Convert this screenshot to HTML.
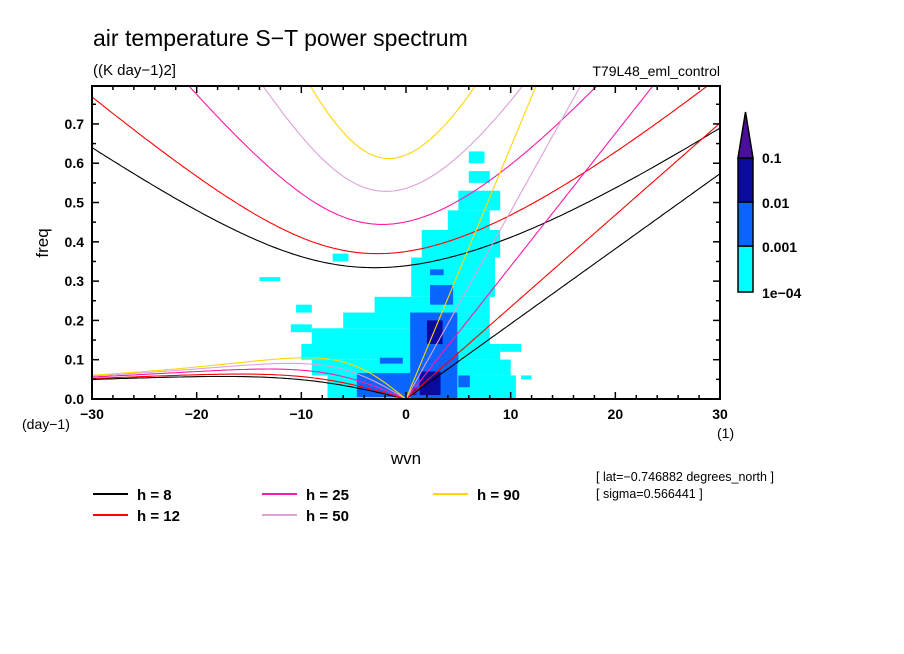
<!DOCTYPE html>
<html><head><meta charset="utf-8"><style>
html,body{margin:0;padding:0;background:#fff;}
svg{display:block;font-family:"Liberation Sans",sans-serif;}
</style></head><body>
<svg id="chart" width="904" height="654" viewBox="0 0 904 654" xmlns="http://www.w3.org/2000/svg">
<text x="93" y="46" font-size="23" fill="#000">air temperature S−T power spectrum</text>
<text x="93" y="75" font-size="15" fill="#000">((K day−1)2]</text>
<text x="720" y="76" font-size="14" fill="#000" text-anchor="end">T79L48_eml_control</text>
<text x="0" y="0" font-size="17" fill="#000" text-anchor="middle" transform="translate(48,243) rotate(-90)">freq</text>
<text x="406" y="464" font-size="17" fill="#000" text-anchor="middle">wvn</text>
<text x="22" y="429" font-size="14" fill="#000">(day−1)</text>
<text x="717" y="438" font-size="14" fill="#000">(1)</text>
<text x="596" y="481" font-size="12.5" fill="#000">[ lat=−0.746882 degrees_north ]</text>
<text x="596" y="498" font-size="12.5" fill="#000">[ sigma=0.566441 ]</text>
<defs><clipPath id="plotclip"><rect x="92" y="86" width="628" height="313"/></clipPath></defs>
<g id="cells" clip-path="url(#plotclip)"></g>
<g id="curves" clip-path="url(#plotclip)"></g>
<g id="axes"></g>
<g id="legend"></g>
<g id="colorbar"></g>
</svg>
<script>
// ---- data ----
const depths = [8, 12, 25, 50, 90];
const depthColors = ["#000000", "#ff0000", "#ff1aa8", "#dda0dd", "#ffd700"];
const xTicks = [-30, -20, -10, 0, 10, 20, 30];
const yTicks = [0.0, 0.1, 0.2, 0.3, 0.4, 0.5, 0.6, 0.7];
const levelLabels = ["1e-04", "0.001", "0.01", "0.1"];
const levelColors = ["#00ffff", "#0a64ff", "#0a0a9e", "#4b0fa0"];
// power cells: [k0, k1, f0, f1, level]
const cellK0 = [-7.5,-9,-10,-9,-6,-3,0.5,1.5,4,5,6,6,-7,-14,-10.5,-11,9,8,11,  0.4,2.3,-4.7,-2.5,5,2.3,3.5,  1.3,2,  0.5];
const cellK1 = [10.5,10,9,8,8,8,8.5,9,8,9,8,7.5,-5.5,-12,-9,-9,11,10,12,  4.9,4.5,0.4,-0.3,6.1,3.6,5,  3.3,3.5,  1];
const cellF0 = [0,0.06,0.1,0.14,0.18,0.22,0.26,0.36,0.43,0.48,0.55,0.6,0.35,0.30,0.22,0.17,0.12,0.08,0.05,  0,0.24,0.005,0.09,0.03,0.315,0.09,  0.01,0.14,  0.01];
const cellF1 = [0.06,0.1,0.14,0.18,0.22,0.26,0.36,0.43,0.48,0.53,0.58,0.63,0.37,0.31,0.24,0.19,0.14,0.1,0.06,  0.22,0.29,0.066,0.105,0.06,0.33,0.12,  0.07,0.2,  0.03];
const cellLevel = [0,0,0,0,0,0,0,0,0,0,0,0,0,0,0,0,0,0,0,  1,1,1,1,1,1,1,  2,2,  3];

// ---- axes ----
const X0=92, X1=720, Y0=399, Y1=86, KMIN=-30, KMAX=30, FMIN=0, FMAX=0.7965;
const xs = k => X0 + (k-KMIN)/(KMAX-KMIN)*(X1-X0);
const ys = f => Y0 - (f-FMIN)/(FMAX-FMIN)*(Y0-Y1);
const NS="http://www.w3.org/2000/svg";
function mk(tag, attrs, parent){const e=document.createElementNS(NS,tag);for(const a in attrs)e.setAttribute(a,attrs[a]);parent.appendChild(e);return e;}

const cg=document.getElementById('cells');
for(let i=0;i<cellK0.length;i++){
  const r=mk('rect',{x:xs(cellK0[i]),y:ys(cellF1[i]),width:xs(cellK1[i])-xs(cellK0[i]),height:ys(cellF0[i])-ys(cellF1[i]),fill:levelColors[cellLevel[i]]},cg);
  
  
}

// dispersion curves (Matsuno, symmetric n=1)
const g=9.8, beta=2*7.292e-5/6.371e6, a=6.371e6, toCpd=86400/(2*Math.PI);
function cubicRoot(kk,c,n,w){ // w0 rad/s
  for(let it=0;it<60;it++){const f=w*w*w-c*c*(kk*kk+(2*n+1)*beta/c)*w-beta*kk*c*c;const d=3*w*w-c*c*(kk*kk+(2*n+1)*beta/c);w-=f/d;}
  return w;
}
const cv=document.getElementById('curves');
depths.forEach((h,i)=>{
  const c=Math.sqrt(g*h);
  let ig=[],er=[],kel=[];
  for(let k=-30;k<=30.001;k+=0.25){
    const kk=k/a;
    const w0=Math.sqrt(3*beta*c+kk*kk*c*c)*1.05;
    ig.push([k,cubicRoot(kk,c,1,w0)*toCpd]);
    if(k<=0){ const wr=k===0?0:cubicRoot(kk,c,1,-beta*kk/(kk*kk+3*beta/c)); er.push([k,wr*toCpd]); }
    if(k>=0) kel.push([k,kk*c*toCpd]);
  }
  [['ig',ig],['er',er],['kelvin',kel]].forEach(([nm,pts])=>{
    const p=mk('polyline',{points:pts.map(q=>xs(q[0]).toFixed(1)+','+ys(q[1]).toFixed(1)).join(' '),fill:'none',stroke:depthColors[i],'stroke-width':1.1},cv);
    
    
  });
});

// axes frame and ticks
const ax=document.getElementById('axes');
const fr=mk('rect',{x:X0,y:Y1,width:X1-X0,height:Y0-Y1,fill:'none',stroke:'#000','stroke-width':2},ax);


for(let k=-30;k<=30;k+=2){
  const major=k%10===0, L=major?7:4;
  mk('line',{x1:xs(k),x2:xs(k),y1:Y0,y2:Y0-L,stroke:'#000','stroke-width':1.5},ax);
  mk('line',{x1:xs(k),x2:xs(k),y1:Y1,y2:Y1+L,stroke:'#000','stroke-width':1.5},ax);
}
for(let f=0;f<=0.79;f+=0.05){
  const major=Math.round(f*100)%10===0, L=major?7:4;
  mk('line',{x1:X0,x2:X0+L,y1:ys(f),y2:ys(f),stroke:'#000','stroke-width':1.5},ax);
  mk('line',{x1:X1,x2:X1-L,y1:ys(f),y2:ys(f),stroke:'#000','stroke-width':1.5},ax);
}
xTicks.forEach(k=>{
  const t=mk('text',{x:xs(k),y:419,'font-size':14,'font-weight':'bold','text-anchor':'middle',fill:'#000'},ax);
  t.textContent=(k<0?'−':'')+Math.abs(k);
  
  
});
yTicks.forEach(f=>{
  const t=mk('text',{x:84,y:ys(f)+5,'font-size':14,'font-weight':'bold','text-anchor':'end',fill:'#000'},ax);
  t.textContent=f.toFixed(1);
  
  
});

// legend
const lg=document.getElementById('legend');
const legX=[93,93,262,262,433], legY=[494,515,494,515,494];
depths.forEach((h,i)=>{
  const l=mk('line',{x1:legX[i],x2:legX[i]+35,y1:legY[i],y2:legY[i],stroke:depthColors[i],'stroke-width':2},lg);
  
  
  const t=mk('text',{x:legX[i]+44,y:legY[i]+6,'font-size':15,'font-weight':'bold',fill:'#000','xml:space':'preserve'},lg);
  t.textContent='h = '+(h<10?' ':'')+h;
  
  
});

// colorbar
const cb=document.getElementById('colorbar');
const bx=738,bw=15, boxTops=[246,202,158], boxBots=[292,246,202];
for(let i=0;i<3;i++){
  const r=mk('rect',{x:bx,y:boxTops[i],width:bw,height:boxBots[i]-boxTops[i],fill:levelColors[i],stroke:'#000','stroke-width':1.5},cb);
  
  
}
const tri=mk('polygon',{points:`${bx},158 ${bx+bw},158 ${bx+bw/2},112`,fill:levelColors[3],stroke:'#000','stroke-width':1.5},cb);


const labY=[298,252,208,163];
levelLabels.forEach((s,i)=>{
  const t=mk('text',{x:762,y:labY[i],'font-size':14,'font-weight':'bold',fill:'#000'},cb);
  t.textContent=s.replace('-','−');
  
  
});
</script>
</body></html>
